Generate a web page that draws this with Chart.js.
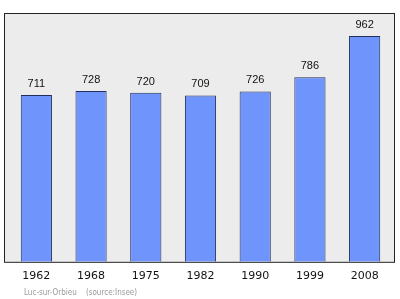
<!DOCTYPE html>
<html>
<head>
<meta charset="utf-8">
<script src="https://cdn.jsdelivr.net/npm/chart.js@4/dist/chart.umd.min.js"></script>
<style>
  html,body{margin:0;padding:0;background:#fff;overflow:hidden;}
  canvas{display:block;}
</style>
</head>
<body>
<canvas id="pop" width="400" height="299"></canvas>
<script>
const years = ["1962","1968","1975","1982","1990","1999","2008"];
const population = [711, 728, 720, 709, 726, 786, 962];
const yMax = 1060;
const footer = "Luc-sur-Orbieu    (source:Insee)";

// grey plot frame behind bars, value labels above, source line under axis
const framePlugin = {
  id: "frame",
  beforeDraw(chart){
    const ctx = chart.ctx, a = chart.chartArea;
    ctx.save();
    ctx.fillStyle = "#ececec";
    ctx.fillRect(4, a.top, 391, a.bottom - a.top);
    ctx.strokeStyle = "#222";
    ctx.lineWidth = 1;
    ctx.strokeRect(4.5, a.top + 0.5, 390, a.bottom - a.top);
    ctx.restore();
  },
  afterDatasetsDraw(chart){
    const ctx = chart.ctx;
    const meta = chart.getDatasetMeta(0);
    ctx.save();
    ctx.fillStyle = "#111";
    ctx.font = "11px 'Liberation Sans', Arial, sans-serif";
    ctx.textAlign = "center";
    ctx.textBaseline = "alphabetic";
    meta.data.forEach((bar, i)=>{
      ctx.fillText(String(population[i]), bar.x, bar.y - 8);
    });
    ctx.fillStyle = "#9a9a9a";
    ctx.font = "8px 'DejaVu Sans Condensed', 'DejaVu Sans', sans-serif";
    ctx.textAlign = "left";
    ctx.fillText(footer, 24, 295);
    ctx.restore();
  }
};

new Chart(document.getElementById("pop").getContext("2d"), {
  type: "bar",
  data: {
    labels: years,
    datasets: [{
      data: population,
      backgroundColor: "#6f94fb",
      borderColor: "#1f2f5a",
      borderWidth: 1,
      barPercentage: 0.57,
      categoryPercentage: 1
    }]
  },
  options: {
    responsive: false,
    animation: false,
    devicePixelRatio: 1,
    layout: { padding: { left: 9, right: 8, top: 13, bottom: 8 } },
    plugins: { legend: { display: false }, tooltip: { enabled: false } },
    scales: {
      x: {
        grid: { display: false, drawTicks: false },
        border: { display: false },
        ticks: { color: "#111", padding: 8, font: { family: "'DejaVu Sans', sans-serif", size: 11 } }
      },
      y: {
        display: false,
        min: 0,
        max: yMax
      }
    }
  },
  plugins: [framePlugin]
});
</script>
</body>
</html>
